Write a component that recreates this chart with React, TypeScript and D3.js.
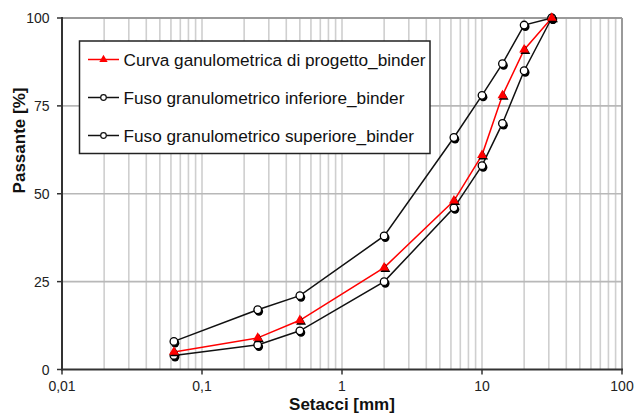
import React from "react";
import * as d3 from "d3";

const sieves = [0.063, 0.25, 0.5, 2, 6.3, 10, 14, 20, 31.5];
const progetto = [5, 9, 14, 29, 48, 61, 78, 91, 100];
const inferiore = [4, 7, 11, 25, 46, 58, 70, 85, 100];
const superiore = [8, 17, 21, 38, 66, 78, 87, 98, 100];
const xTickValues = [0.01, 0.1, 1, 10, 100];
const xTickLabels = ["0,01", "0,1", "1", "10", "100"];
const yTickValues = [0, 25, 50, 75, 100];
const legendLabels = [
  "Curva ganulometrica di progetto_binder",
  "Fuso granulometrico inferiore_binder",
  "Fuso granulometrico superiore_binder",
];

const W = 634, H = 413;
const L = 62, R = 622, T = 18, B = 369.5;
const FONT = "'Liberation Sans', Arial, sans-serif";

export default function App() {
  const x = d3.scaleLog().domain([0.01, 100]).range([L, R]);
  const y = d3.scaleLinear().domain([0, 100]).range([B, T]);
  const minor: number[] = [];
  for (let e = -2; e < 2; e++) for (let k = 2; k <= 9; k++) minor.push(k * Math.pow(10, e));
  const line = d3.line<[number, number]>().x(d => x(d[0])).y(d => y(d[1]));
  const pts = (vals: number[]) => sieves.map((s, i) => [s, vals[i]] as [number, number]);
  const tri = d3.symbol().type(d3.symbolTriangle).size(42)();
  const triSmall = d3.symbol().type(d3.symbolTriangle).size(30)();

  const circles = (vals: number[]) =>
    pts(vals).map((p, i) => (
      <g key={i} transform={`translate(${x(p[0])},${y(p[1])})`}>
        <circle cx={1.2} cy={1.8} r={4.2} fill="#000" />
        <circle r={3.8} fill="#fff" stroke="#000" strokeWidth={1.3} />
      </g>
    ));

  return (
    <div style={{ position: "absolute", left: 0, top: 0 }}>
      <svg width={W} height={H} style={{ display: "block", background: "#fff" }} fontFamily={FONT}>
        {/* grid */}
        {minor.concat([0.1, 1, 10]).map((v, i) => (
          <line key={"v" + i} x1={x(v)} x2={x(v)} y1={T} y2={B} stroke="#cfcfcf" strokeWidth={1.6} />
        ))}
        {[25, 50, 75].map(v => (
          <line key={"h" + v} x1={L} x2={R} y1={y(v)} y2={y(v)} stroke="#b8b8b8" strokeWidth={1.6} />
        ))}
        {/* border top/right */}
        <line x1={L} x2={R} y1={T} y2={T} stroke="#9a9a9a" strokeWidth={2} />
        <line x1={R} x2={R} y1={T} y2={B} stroke="#9a9a9a" strokeWidth={2} />
        {/* axes */}
        <line x1={L} x2={L} y1={T - 1} y2={B + 1} stroke="#333" strokeWidth={2} />
        <line x1={L - 1} x2={R + 1} y1={B} y2={B} stroke="#333" strokeWidth={2} />
        {yTickValues.map(v => (
          <g key={"yt" + v}>
            <line x1={L - 5} x2={L} y1={y(v)} y2={y(v)} stroke="#333" strokeWidth={1.5} />
            <text x={49.5} y={y(v) + 5} textAnchor="end" fontSize={14} fill="#222">{v}</text>
          </g>
        ))}
        {xTickValues.map((v, i) => (
          <g key={"xt" + i}>
            <line x1={x(v)} x2={x(v)} y1={B} y2={B + 5} stroke="#333" strokeWidth={1.5} />
            <text x={x(v)} y={391} textAnchor="middle" fontSize={14} fill="#222">{xTickLabels[i]}</text>
          </g>
        ))}
        {/* axis titles */}
        <text x={342} y={410} textAnchor="middle" fontSize={17} fontWeight="bold" fill="#111">Setacci [mm]</text>
        <text transform="translate(25,140.5) rotate(-90)" textAnchor="middle" fontSize={17} fontWeight="bold" fill="#111">Passante [%]</text>
        {/* lines */}
        <path d={line(pts(superiore)) || ""} fill="none" stroke="#111" strokeWidth={1.5} />
        <path d={line(pts(inferiore)) || ""} fill="none" stroke="#111" strokeWidth={1.5} />
        <path d={line(pts(progetto)) || ""} fill="none" stroke="#f00" strokeWidth={1.5} />
        {circles(superiore)}
        {circles(inferiore)}
        {pts(progetto).map((p, i) => (
          <g key={"t" + i} transform={`translate(${x(p[0])},${y(p[1])})`}>
            <path d={tri || ""} transform="translate(1.2,1.5)" fill="#000" />
            <path d={tri || ""} fill="#f00" />
          </g>
        ))}
        {/* legend */}
        <rect x={79.5} y={41} width={350.5} height={112.5} fill="#fff" stroke="#222" strokeWidth={1.5} />
        {legendLabels.map((lab, i) => {
          const ly = 59.5 + i * 38;
          return (
            <g key={"lg" + i}>
              <line x1={88} x2={119} y1={ly} y2={ly} stroke={i === 0 ? "#f00" : "#111"} strokeWidth={1.5} />
              {i === 0 ? (
                <path d={triSmall || ""} transform={`translate(103.5,${ly})`} fill="#f00" />
              ) : (
                <circle cx={103.5} cy={ly} r={2.8} fill="#fff" stroke="#111" strokeWidth={1.2} />
              )}
              <text x={123.5} y={ly + 6} fontSize={17.2} fill="#111">{lab}</text>
            </g>
          );
        })}
      </svg>
    </div>
  );
}
